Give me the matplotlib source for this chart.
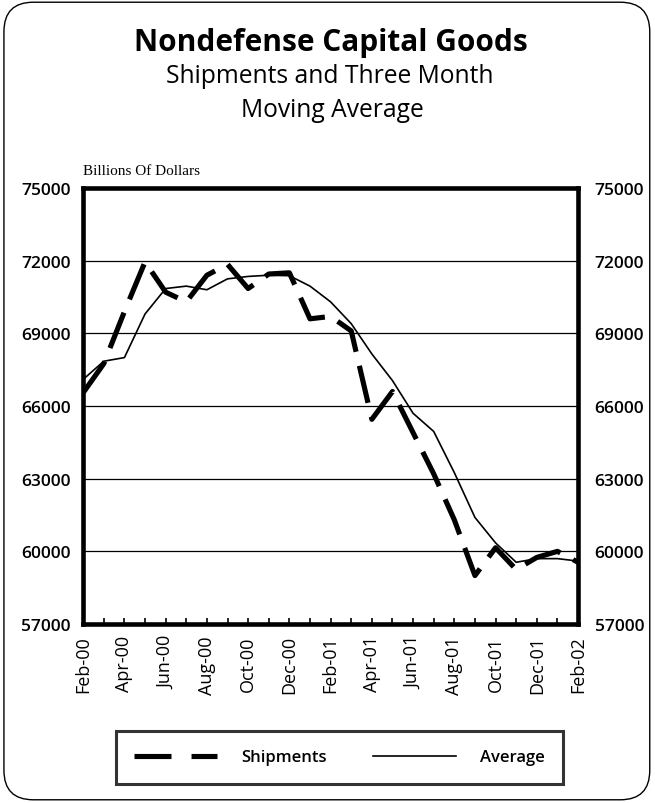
import matplotlib
matplotlib.use("Agg")
import matplotlib.pyplot as plt
from matplotlib.patches import FancyBboxPatch
from matplotlib.lines import Line2D

# monthly values, Feb-00 .. Feb-02
months = ["Feb-00", "Mar-00", "Apr-00", "May-00", "Jun-00", "Jul-00", "Aug-00",
          "Sep-00", "Oct-00", "Nov-00", "Dec-00", "Jan-01", "Feb-01", "Mar-01",
          "Apr-01", "May-01", "Jun-01", "Jul-01", "Aug-01", "Sep-01", "Oct-01",
          "Nov-01", "Dec-01", "Jan-02", "Feb-02"]
shipments = [66550, 67750, 69900, 71950, 70700, 70300, 71400, 71850, 70850,
             71450, 71500, 69600, 69700, 69100, 65450, 66600, 64900, 63200,
             61300, 59000, 60150, 59250, 59750, 60000, 59550]
average = [67100, 67850, 68000, 69800, 70850, 70950, 70800, 71250, 71350,
           71400, 71380, 70950, 70300, 69400, 68150, 67050, 65700, 64950,
           63250, 61400, 60350, 59550, 59700, 59700, 59600]
tick_labels = months[::2]
y_ticks = [57000, 60000, 63000, 66000, 69000, 72000, 75000]

sans = "Open Sans"
ship_lw = 3.7
ship_dash = (7.4, 2.8)

fig = plt.figure(figsize=(6.55, 8.04), dpi=100)

# rounded outer frame
frame = FancyBboxPatch((0.006, 0.004), 0.986, 0.992, boxstyle="round,pad=0,rounding_size=0.045",
                       transform=fig.transFigure, fill=False, lw=1.0, ec="black",
                       mutation_aspect=655 / 804)
fig.patches.append(frame)

fig.text(0.505, 0.947, "Nondefense Capital Goods", ha="center", va="center",
         fontsize=21.5, fontweight="bold", family=sans)
fig.text(0.503, 0.905, "Shipments and Three Month", ha="center", va="center",
         fontsize=17.7, family=sans)
fig.text(0.507, 0.862, "Moving Average", ha="center", va="center",
         fontsize=17.7, family=sans)
fig.text(0.127, 0.787, "Billions Of Dollars", ha="left", va="center",
         fontsize=11, family="Liberation Serif")

ax = fig.add_axes([0.127, 0.2226, 0.7555, 0.5423])
x = list(range(len(months)))
ax.plot(x, average, color="black", lw=1.2, label="Average", zorder=3)
ax.plot(x, shipments, color="black", lw=ship_lw, dashes=ship_dash, label="Shipments",
        solid_capstyle="butt", dash_capstyle="butt", zorder=4)

ax.set_xlim(0, len(months) - 1)
ax.set_ylim(57000, 75000)
ax.set_yticks(y_ticks)
ax.yaxis.grid(True, color="black", lw=0.9)
ax.set_axisbelow(True)
for s in ax.spines.values():
    s.set_linewidth(3.3)

ax.set_xticks(x[::2])
ax.set_xticks(x, minor=True)
ax.set_xticklabels(tick_labels, rotation=90, family=sans, fontsize=13)
ax.tick_params(axis="x", which="both", direction="in", length=4, width=1.2, pad=8)
ax.tick_params(axis="y", length=0, pad=9)
ax.set_yticklabels([str(v) for v in y_ticks], family=sans, fontsize=12.5,
                   fontweight="semibold")

# right side labels
ax2 = ax.twinx()
ax2.set_ylim(ax.get_ylim())
ax2.set_yticks(y_ticks)
ax2.set_yticklabels([str(v) for v in y_ticks], family=sans, fontsize=12.5,
                    fontweight="semibold")
ax2.tick_params(axis="y", length=0, pad=12)
for s in ax2.spines.values():
    s.set_visible(False)

handles = [Line2D([], [], color="black", lw=ship_lw, dashes=(7.2, 3.9), dash_capstyle="butt"),
           Line2D([], [], color="black", lw=1.2)]
leg = fig.legend(handles, ["Shipments", "Average"], loc="center",
                 bbox_to_anchor=(0.518, 0.0566), ncol=2, frameon=True, fancybox=False,
                 handlelength=5.0, columnspacing=2.8, handletextpad=1.4,
                 borderpad=1.1, borderaxespad=0,
                 prop={"family": sans, "size": 12, "weight": "semibold"})
leg.get_frame().set_edgecolor("black")
leg.get_frame().set_linewidth(2.2)

fig.savefig("out.png", dpi=100)
